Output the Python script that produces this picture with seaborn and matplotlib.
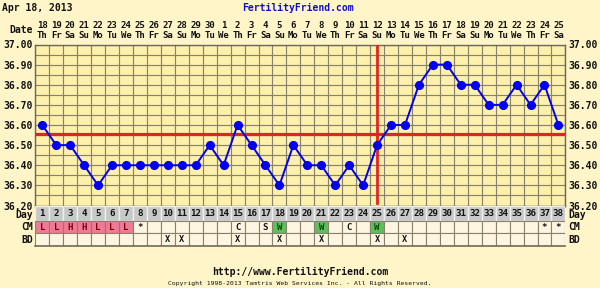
import numpy as np
import pandas as pd
import matplotlib
matplotlib.use("Agg")
import matplotlib.pyplot as plt
import matplotlib.transforms as mtrans
import seaborn as sns

# ---------------- data ----------------
cycle_days = list(range(1, 39))
temps = [36.60, 36.50, 36.50, 36.40, 36.30, 36.40, 36.40, 36.40, 36.40, 36.40,
         36.40, 36.40, 36.50, 36.40, 36.60, 36.50, 36.40, 36.30, 36.50, 36.40,
         36.40, 36.30, 36.40, 36.30, 36.50, 36.60, 36.60, 36.80, 36.90, 36.90,
         36.80, 36.80, 36.70, 36.70, 36.80, 36.70, 36.80, 36.60]
dates = ["18", "19", "20", "21", "22", "23", "24", "25", "26", "27", "28", "29", "30",
         "1", "2", "3", "4", "5", "6", "7", "8", "9", "10", "11", "12", "13", "14",
         "15", "16", "17", "18", "19", "20", "21", "22", "23", "24", "25"]
weekdays = ["Th", "Fr", "Sa", "Su", "Mo", "Tu", "We", "Th", "Fr", "Sa", "Su", "Mo", "Tu",
            "We", "Th", "Fr", "Sa", "Su", "Mo", "Tu", "We", "Th", "Fr", "Sa", "Su", "Mo",
            "Tu", "We", "Th", "Fr", "Sa", "Su", "Mo", "Tu", "We", "Th", "Fr", "Sa"]
cm_marks = {1: "L", 2: "L", 3: "H", 4: "H", 5: "L", 6: "L", 7: "L", 8: "*",
            15: "C", 17: "S", 18: "W", 21: "W", 23: "C", 25: "W", 37: "*", 38: "*"}
bd_days = [10, 11, 15, 18, 21, 25, 27]
coverline = 36.555
ovulation_day = 25
y_ticks = [36.2, 36.3, 36.4, 36.5, 36.6, 36.7, 36.8, 36.9, 37.0]
title = "Apr 18, 2013"
site = "FertilityFriend.com"
footer = "http://www.FertilityFriend.com"
copyright_txt = "Copyright 1998-2013 Tamtris Web Services Inc. - All Rights Reserved."

df = pd.DataFrame({"day": cycle_days, "temp": temps})

# ---------------- style ----------------
BG = "#FFF5C8"
PLOT_BG = "#FFF1AC"
GRID = "#86826C"
CELL_BG = "#FFF6E2"
DAY_BG = "#C8C8C8"
PINK = "#F07A95"
GREEN = "#5EBF5E"
MONO = "DejaVu Sans Mono"
W, H = 600, 288

fig = plt.figure(figsize=(6, 2.88), dpi=100, facecolor=BG)

def px_axes(x0, y0, x1, y1):
    return fig.add_axes([x0 / W, 1 - y1 / H, (x1 - x0) / W, (y1 - y0) / H])

ax = px_axes(35.3, 44.5, 565.4, 205.5)
ax.set_facecolor(PLOT_BG)

sns.lineplot(data=df, x="day", y="temp", ax=ax, color="#0000EE", linewidth=1.4,
             marker="o", markersize=5.8, markeredgecolor="#0000EE", zorder=5)

ax.set_xlim(0.5, 38.5)
ax.set_ylim(36.2, 37.0)
ax.set_xticks([])
ax.set_xticks(np.arange(0.5, 39, 1), minor=True)
ax.set_yticks(y_ticks)
ax.set_yticklabels([f"{v:.2f}" for v in y_ticks])
ax.set_yticks(np.arange(36.2, 37.0001, 0.05), minor=True)
ax.grid(True, which="both", color=GRID, linewidth=0.85, zorder=0)
ax.set_axisbelow(True)
ax.tick_params(which="both", length=0)
ax.tick_params(axis="y", labelleft=True, labelright=True, pad=2, labelsize=7)
for lab in ax.get_yticklabels():
    lab.set_fontfamily(MONO)
    lab.set_fontweight("bold")
    lab.set_color("#111111")
ax.set_xlabel("")
ax.set_ylabel("")
for s in ax.spines.values():
    s.set_color("#6E6A58")
    s.set_linewidth(1.0)

ax.axhline(coverline, color="#E02424", linewidth=2.3, zorder=4)
ax.axvline(ovulation_day, ymin=0.015, ymax=1.0, color="#E02424", linewidth=2.0, zorder=4)

# date / weekday header
trans = mtrans.blended_transform_factory(ax.transData, ax.transAxes)
for d, dt, wd in zip(cycle_days, dates, weekdays):
    ax.text(d, (205.5 - 25) / 161, dt, transform=trans, ha="center", va="center",
            fontsize=6.5, fontfamily=MONO, fontweight="bold", color="#111111", clip_on=False)
    ax.text(d, (205.5 - 35) / 161, wd, transform=trans, ha="center", va="center",
            fontsize=6.5, fontfamily=MONO, fontweight="bold", color="#111111", clip_on=False)

# ---------------- lower rows ----------------
ax2 = px_axes(35.3, 205.5, 565.4, 245.5)
ax2.set_xlim(0.5, 38.5)
ax2.set_ylim(40, 0)
ax2.axis("off")
row_top = [0, 15, 27.5]
row_h = [15, 12.5, 12.5]

ax2.bar(cycle_days, [row_h[0]] * 38, bottom=row_top[0], width=1, color=DAY_BG,
        edgecolor="#EEEEEE", linewidth=1.0)
cm_colors = []
for d in cycle_days:
    m = cm_marks.get(d, "")
    cm_colors.append(PINK if m in ("L", "H") else GREEN if m == "W" else CELL_BG)
ax2.bar(cycle_days, [row_h[1]] * 38, bottom=row_top[1], width=1, color=cm_colors,
        edgecolor=GRID, linewidth=0.8)
ax2.bar(cycle_days, [row_h[2]] * 38, bottom=row_top[2], width=1, color=CELL_BG,
        edgecolor=GRID, linewidth=0.8)
ax2.plot([0.5, 38.5], [40, 40], color="#6E6A58", linewidth=1.2, clip_on=False)

for d in cycle_days:
    ax2.text(d, row_top[0] + row_h[0] / 2 + 0.8, str(d), ha="center", va="center",
             fontsize=6.6, fontfamily=MONO, fontweight="bold", color="#111111")
    m = cm_marks.get(d, "")
    if m:
        col = "#7A0010" if m in ("L", "H") else "#0A4A0A" if m == "W" else "#111111"
        ax2.text(d, row_top[1] + row_h[1] / 2 + 0.5, m, ha="center", va="center",
                 fontsize=6.5, fontfamily=MONO, fontweight="bold", color=col)
for d in bd_days:
    ax2.text(d, row_top[2] + row_h[2] / 2, "X", ha="center", va="center",
             fontsize=6.2, fontfamily=MONO, fontweight="bold", color="#111111")

trans2 = mtrans.blended_transform_factory(ax2.transAxes, ax2.transData)
for name, t, h in zip(["Day", "CM", "BD"], row_top, row_h):
    yy = t + h / 2 + (2.0 if name == "Day" else 0.5)
    ax2.text(-2.5 / 530, yy, name, transform=trans2, ha="right", va="center",
             fontsize=7, fontfamily=MONO, fontweight="bold", color="#111111", clip_on=False)
    ax2.text(1 + 2.5 / 530, yy, name, transform=trans2, ha="left", va="center",
             fontsize=7, fontfamily=MONO, fontweight="bold", color="#111111", clip_on=False)

# ---------------- texts ----------------
fig.text(33 / W, 1 - 30 / H, "Date", ha="right", va="center", fontsize=7,
         fontfamily=MONO, fontweight="bold", color="#111111")
fig.text(2 / W, 1 - 8 / H, title, ha="left", va="center", fontsize=7,
         fontfamily=MONO, fontweight="bold", color="#111111")
fig.text(298 / W, 1 - 8 / H, site, ha="center", va="center", fontsize=7,
         fontfamily=MONO, fontweight="bold", color="#1010CC")
fig.text(300 / W, 1 - 272 / H, footer, ha="center", va="center", fontsize=7,
         fontfamily=MONO, fontweight="bold", color="#111111")
fig.text(300 / W, 1 - 283.5 / H, copyright_txt, ha="center", va="center", fontsize=4.6,
         fontfamily=MONO, color="#111111")

fig.savefig("out.png", dpi=100, facecolor=BG)
